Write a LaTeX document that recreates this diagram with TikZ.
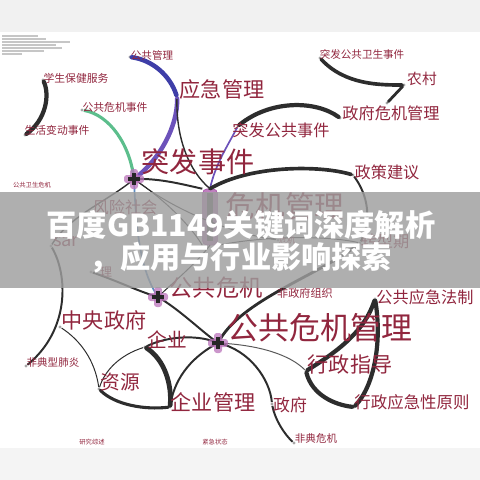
\documentclass[tikz,border=0pt]{standalone}
\usepackage{fontspec}
\newfontfamily\cjk{Noto Sans CJK SC}
\usepackage{tikz}
\usetikzlibrary{calc}
\definecolor{labelred}{RGB}{145,38,62}
\definecolor{linkgray}{RGB}{45,45,45}
\definecolor{arcblue}{RGB}{62,62,168}
\definecolor{arcpurple}{RGB}{108,82,186}
\definecolor{arcgreen}{RGB}{92,190,140}
\definecolor{arcsteel}{RGB}{92,140,192}
\definecolor{bannergray}{RGB}{158,158,158}
\tikzstyle{thinlink} = [line width = 0.7pt, color = linkgray]
\tikzstyle{link} = [line width = 1.4pt, color = linkgray]
\tikzstyle{heavylink} = [line width = 3pt, color = linkgray, line cap = round]
\tikzstyle{dot} = [circle, fill = gray!70, inner sep = 0pt, minimum size = 0.08cm]
\tikzstyle{lbl} = [text = labelred, inner sep = 0pt]
\newcommand{\fs}[1]{\fontsize{#1}{#1}\selectfont}
\newcommand{\hubmark}[1]{
	\fill[violet!55, opacity = 0.75, rounded corners = 2pt] ($(#1)+(-10,-4)$) rectangle ($(#1)+(10,4)$);
	\fill[violet!55, opacity = 0.75, rounded corners = 2pt] ($(#1)+(-4,-10)$) rectangle ($(#1)+(4,10)$);
	\fill[black!85] ($(#1)+(-6,-1.6)$) rectangle ($(#1)+(6,1.6)$);
	\fill[black!85] ($(#1)+(-1.6,-6)$) rectangle ($(#1)+(1.6,6)$);}

\begin{document}
\begin{tikzpicture}[x=0.025cm, y=-0.025cm]

		\useasboundingbox (0,0) rectangle (480,480);

		% Faded strips
		\fill[gray!11] (0,0) rectangle (480,32);
		\fill[gray!9] (0,448) rectangle (480,480);
		\foreach \y/\l in {36/38, 39/46, 42/70, 45/56, 48/62, 51/44, 54/22}
		{
			\draw[gray!45, line width = 0.8pt] (2,\y) -- (\l,\y);
		}

		% Hubs and dots
		\node[dot] (xs) at (43,80) {};
		\node[dot] (sh) at (25,135) {};
		\node[dot] (ggl) at (130,57) {};
		\node[dot] (yj) at (177,97) {};
		\node[dot] (ggwe) at (82,110) {};
		\node[dot] (tfws) at (320,58) {};
		\node[dot] (nc) at (404,85) {};
		\node[dot] (nctail) at (387,103) {};
		\node[dot] (zfwj) at (340,118) {};
		\node[dot] (tfgg) at (238,126) {};
		\node[dot] (zcjy) at (353,175) {};
		\node[dot] (zxq) at (360,243) {};
		\node[dot] (sar) at (51,246) {};
		\node[dot] (li) at (91,272) {};
		\node[dot] (xwj) at (278,240) {};
		\node[dot] (ggyj) at (375,299) {};
		\node[dot] (zyzf) at (60,327) {};
		\node[dot] (fdx) at (26,366) {};
		\node[dot] (qy) at (145,347) {};
		\node[dot] (zy) at (99,389) {};
		\node[dot] (qygl) at (170,407) {};
		\node[dot] (xzzd) at (306,371) {};
		\node[dot] (xzyj) at (354,407) {};
		\node[dot] (zf) at (272,404) {};
		\node[dot] (fdwj) at (294,443) {};
		\coordinate (jSF) at (134,179);
		\coordinate (jGW) at (158,297);
		\coordinate (jGGW) at (218,343);
		\node[rectangle, rounded corners = 3pt, fill = violet!50, draw = violet!70, minimum width = 0.37cm, minimum height = 1.4cm] (wjgl) at (210,217) {};
		\fill[gray!70!black] ($(wjgl.north)+(-3,4)$) rectangle ($(wjgl.south)+(3,-4)$);

		% Links
		\draw[heavylink] (xs) .. controls (50,95) and (46,120) .. (sh);
		\draw[heavylink, arcblue, line width = 3.2pt] (ggl) .. controls (152,60) and (170,75) .. (yj);
		\draw[heavylink, arcpurple, line width = 3.2pt] (yj) .. controls (178,125) and (160,160) .. (jSF);
		\draw[arcgreen, line width = 2.2pt] (ggwe) .. controls (110,115) and (130,145) .. (jSF);
		\draw[thinlink, line width = 1pt] (yj) .. controls (176,140) and (190,172) .. (wjgl.north);
		\draw[arcpurple, line width = 1.2pt] (tfgg) .. controls (228,145) and (215,165) .. (wjgl.north);
		\draw[heavylink] (tfgg) .. controls (270,100) and (315,100) .. (zfwj);
		\draw[heavylink, line width = 2.6pt] (tfws) .. controls (345,85) and (380,85) .. (nc);
		\draw[heavylink, line width = 2pt] (nc) -- (nctail);
		\draw[heavylink, line width = 2.6pt] (wjgl.north) .. controls (250,165) and (320,165) .. (zcjy);
		\draw[link] (zcjy) .. controls (368,195) and (372,220) .. (zxq);
		\draw[link] (jSF) .. controls (160,178) and (185,185) .. (wjgl.north west);
		\draw[thinlink] (jSF) .. controls (165,200) and (190,225) .. (wjgl.south west);
		\draw[thinlink] (jSF) .. controls (180,215) and (240,235) .. (xwj);
		\draw[arcsteel, line width = 1.2pt] (jSF) .. controls (136,230) and (140,270) .. (jGW);
		\draw[thinlink, line width = 1pt] (sar) .. controls (70,215) and (110,200) .. (jSF);
		\draw[link] (sar) .. controls (68,275) and (70,330) .. (fdx);
		\draw[link] (li) .. controls (115,280) and (140,292) .. (jGW);
		\draw[thinlink] (wjgl.south) .. controls (195,265) and (170,285) .. (jGW);
		\draw[thinlink] (wjgl.south east) .. controls (270,235) and (330,236) .. (zxq);
		\draw[link] (jGW) .. controls (180,310) and (200,330) .. (jGGW);
		\draw[link, line width = 2pt] (jGGW) .. controls (240,300) and (320,275) .. (zxq);
		\draw[link] (qy) .. controls (170,335) and (200,335) .. (jGGW);
		\draw[heavylink, line width = 3.4pt] (qy) .. controls (165,360) and (172,385) .. (qygl);
		\draw[thinlink] (qy) .. controls (120,355) and (105,370) .. (zy);
		\draw[heavylink, line width = 2.2pt] (zy) .. controls (115,405) and (145,410) .. (qygl);
		\draw[thinlink] (zyzf) .. controls (80,340) and (95,360) .. (zy);
		\draw[link] (jGGW) .. controls (195,355) and (175,375) .. (qygl);
		\draw[link] (jGGW) .. controls (250,350) and (270,380) .. (zf);
		\draw[link] (zf) .. controls (275,420) and (285,435) .. (fdwj);
		\draw[thinlink, gray!70!black] (jGGW) .. controls (260,345) and (290,355) .. (xzzd);
		\draw[heavylink] (ggyj) .. controls (365,330) and (340,350) .. (xzzd);
		\draw[heavylink] (ggyj) .. controls (382,340) and (375,385) .. (xzyj);
		\draw[heavylink] (xzzd) .. controls (312,395) and (335,405) .. (xzyj);

		\hubmark{jSF}
		\hubmark{jGW}
		\hubmark{jGGW}

		% Labels
		\node[lbl, font = \cjk\fs{7.5}] (gglT) at (152,55) {公共管理};
		\node[lbl, font = \cjk\fs{7.7}] (xsT) at (76,78) {学生保健服务};
		\node[lbl, font = \cjk\fs{7.7}] (ggweT) at (115,107) {公共危机事件};
		\node[lbl, font = \cjk\fs{7.7}] (shT) at (57,130) {生活变动事件};
		\node[lbl, font = \cjk\fs{15}] (yjT) at (222,89) {应急管理};
		\node[lbl, font = \cjk\fs{20}] (tfsjT) at (198,162) {突发事件};
		\node[lbl, font = \cjk\fs{7.5}] (tfwsT) at (362,54) {突发公共卫生事件};
		\node[lbl, font = \cjk\fs{10.5}] (ncT) at (422,79) {农村};
		\node[lbl, font = \cjk\fs{11.5}] (zfwjT) at (391,113) {政府危机管理};
		\node[lbl, font = \cjk\fs{11.5}] (tfggT) at (281,130) {突发公共事件};
		\node[lbl, font = \cjk\fs{11.5}] (zcjyT) at (387,172) {政策建议};
		\node[lbl, font = \cjk\fs{21}] (wjglT) at (285,206) {危机管理};
		\node[lbl, font = \cjk\fs{11.5}] (fxshT) at (125,207) {风险社会};
		\node[lbl, font = \cjk\fs{13}] (sarT) at (66,242) {sar};
		\node[lbl, font = \cjk\fs{8.5}] (liT) at (106,272) {理};
		\node[lbl, font = \cjk\fs{5.7}] (xwjT) at (287,240) {危机};
		\node[lbl, font = \cjk\fs{11.5}] (zxqT) at (385,241) {转型期};
		\node[lbl, font = \cjk\fs{7.9}] (fzfT) at (305,293) {非政府组织};
		\node[lbl, font = \cjk\fs{11.5}] (ggyjT) at (425,297) {公共应急法制};
		\node[lbl, font = \cjk\fs{4.5}] (ggwsT) at (32,185) {公共卫生危机};
		\node[lbl, font = \cjk\fs{16.5}] (ggwjT) at (216,288) {公共危机};
		\node[lbl, font = \cjk\fs{15}] (zyzfT) at (104,320) {中央政府};
		\node[lbl, font = \cjk\fs{14}] (qyT) at (167,340) {企业};
		\node[lbl, font = \cjk\fs{7.5}] (fdxT) at (53,362) {非典型肺炎};
		\node[lbl, font = \cjk\fs{14}] (zyT) at (120,382) {资源};
		\node[lbl, font = \cjk\fs{15}] (qyglT) at (213,402) {企业管理};
		\node[lbl, font = \cjk\fs{4.5}] (yjzsT) at (92,442) {研究综述};
		\node[lbl, font = \cjk\fs{4.5}] (jjztT) at (215,442) {紧急状态};
		\node[lbl, font = \cjk\fs{22}] (ggwjglT) at (320,328) {公共危机管理};
		\node[lbl, font = \cjk\fs{15}] (xzzdT) at (350,365) {行政指导};
		\node[lbl, font = \cjk\fs{11.7}] (xzyjT) at (412,402) {行政应急性原则};
		\node[lbl, font = \cjk\fs{12}] (zfT) at (290,405) {政府};
		\node[lbl, font = \cjk\fs{7.5}] (fdwjT) at (316,438) {非典危机};

		% Banner
		\fill[bannergray, fill opacity = 0.82] (0,192) rectangle (480,288);
		\node[text = white, font = \cjk\bfseries\fs{21.5}] (title) at (241,225) {百度GB1149关键词深度解析};
		\node[text = white, font = \cjk\bfseries\fs{21.5}] (subtitle) at (241,258) {，应用与行业影响探索};
	\end{tikzpicture}
\end{document}
